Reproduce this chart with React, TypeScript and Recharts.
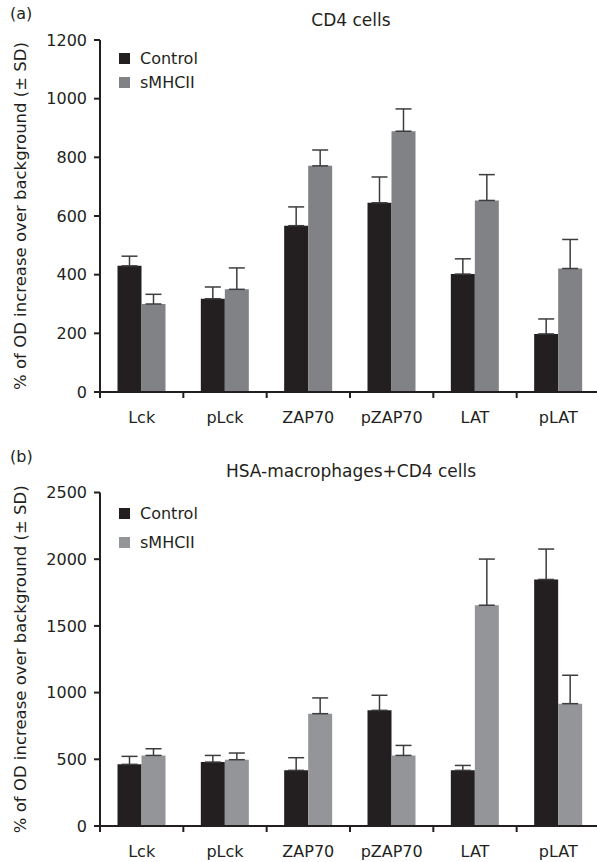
import { BarChart, Bar, XAxis, YAxis, ErrorBar, Legend } from 'recharts'

const categories = ['Lck', 'pLck', 'ZAP70', 'pZAP70', 'LAT', 'pLAT']

// (a) CD4 cells
const cd4Control = [430, 318, 567, 645, 402, 198]
const cd4ControlSd = [33, 40, 64, 88, 52, 51]
const cd4Smhc = [300, 350, 771, 889, 653, 421]
const cd4SmhcSd = [33, 73, 54, 76, 88, 99]
const cd4Ticks = [0, 200, 400, 600, 800, 1000, 1200]

// (b) HSA-macrophages+CD4 cells
const hsaControl = [462, 479, 417, 867, 417, 1848]
const hsaControlSd = [60, 50, 95, 113, 37, 228]
const hsaSmhc = [529, 497, 842, 529, 1655, 917]
const hsaSmhcSd = [50, 50, 118, 75, 346, 213]
const hsaTicks = [0, 500, 1000, 1500, 2000, 2500]

const INK = '#231f20'
const CONTROL = '#231f20'
const Y_LABEL = '% of OD increase over background (± SD)'

function buildRows(ctrl: number[], ctrlSd: number[], smhc: number[], smhcSd: number[]) {
  return categories.map((name, i) => ({
    name,
    control: ctrl[i],
    controlErr: [0, ctrlSd[i]],
    smhc: smhc[i],
    smhcErr: [0, smhcSd[i]],
  }))
}

function CategoryTick(props: any) {
  const { x, y, payload, index, width, visibleTicksCount } = props
  const band = width && visibleTicksCount ? width / visibleTicksCount : 500 / 6
  return (
    <g>
      {index === 0 && (
        <line x1={x - band / 2} x2={x - band / 2} y1={y} y2={y + 6} stroke={INK} strokeWidth={2} />
      )}
      <line x1={x + band / 2} x2={x + band / 2} y1={y} y2={y + 6} stroke={INK} strokeWidth={2} />
      <text x={x} y={y + 31} textAnchor="middle" fontSize={16} fill={INK}>
        {payload.value}
      </text>
    </g>
  )
}

function legendContent(rowHeight: number) {
  return (props: any) => (
    <div>
      {(props.payload || []).map((entry: any) => (
        <div
          key={entry.value}
          style={{ display: 'flex', alignItems: 'center', height: rowHeight, fontSize: 16, color: INK, whiteSpace: 'nowrap' }}
        >
          <span style={{ display: 'inline-block', width: 11, height: 11, background: entry.color, marginRight: 10 }} />
          {entry.value}
        </div>
      ))}
    </div>
  )
}

interface PanelProps {
  data: ReturnType<typeof buildRows>
  ticks: number[]
  smhcColor: string
  height: number
  marginTop: number
  marginBottom: number
  xAxisHeight: number
  legendTop: number
  legendRow: number
}

function Panel({ data, ticks, smhcColor, height, marginTop, marginBottom, xAxisHeight, legendTop, legendRow }: PanelProps) {
  return (
    <BarChart
      width={600}
      height={height}
      data={data}
      margin={{ top: marginTop, right: 0, bottom: marginBottom, left: 0 }}
      barCategoryGap="21%"
      barGap={0}
    >
      <XAxis
        dataKey="name"
        interval={0}
        tickLine={false}
        tickSize={0}
        tickMargin={0}
        height={xAxisHeight}
        axisLine={{ stroke: INK, strokeWidth: 2 }}
        tick={<CategoryTick />}
      />
      <YAxis
        width={100}
        domain={[0, ticks[ticks.length - 1]]}
        ticks={ticks}
        interval={0}
        tickSize={6}
        tickMargin={7}
        axisLine={{ stroke: INK, strokeWidth: 2 }}
        tickLine={{ stroke: INK, strokeWidth: 2 }}
        tick={{ fontSize: 16, fill: INK }}
        label={{ value: Y_LABEL, angle: -90, position: 'center', dx: -30, fontSize: 16.5, fill: INK }}
      />
      <Legend
        layout="vertical"
        align="center"
        verticalAlign="middle"
        wrapperStyle={{ left: 119, top: legendTop, width: 'auto', height: 'auto' }}
        content={legendContent(legendRow)}
      />
      <Bar dataKey="control" name="Control" fill={CONTROL} isAnimationActive={false}>
        <ErrorBar dataKey="controlErr" direction="y" width={8} stroke="#3d3d3f" strokeWidth={1.5} />
      </Bar>
      <Bar dataKey="smhc" name="sMHCII" fill={smhcColor} isAnimationActive={false}>
        <ErrorBar dataKey="smhcErr" direction="y" width={8} stroke="#3d3d3f" strokeWidth={1.5} />
      </Bar>
    </BarChart>
  )
}

export default function App() {
  const cd4 = buildRows(cd4Control, cd4ControlSd, cd4Smhc, cd4SmhcSd)
  const hsa = buildRows(hsaControl, hsaControlSd, hsaSmhc, hsaSmhcSd)

  return (
    <div
      style={{
        position: 'absolute',
        left: 0,
        top: 0,
        width: 597,
        height: 862,
        overflow: 'hidden',
        background: '#fff',
        fontFamily: '"DejaVu Sans", sans-serif',
      }}
    >
      <div style={{ position: 'absolute', left: 0, top: 0 }}>
        <Panel
          data={cd4}
          ticks={cd4Ticks}
          smhcColor="#808285"
          height={440}
          marginTop={40}
          marginBottom={8}
          xAxisHeight={40}
          legendTop={47}
          legendRow={23.5}
        />
      </div>
      <div style={{ position: 'absolute', left: 0, top: 440 }}>
        <Panel
          data={hsa}
          ticks={hsaTicks}
          smhcColor="#939598"
          height={422}
          marginTop={52.5}
          marginBottom={0}
          xAxisHeight={36}
          legendTop={58.5}
          legendRow={29}
        />
      </div>
      <svg width={597} height={862} style={{ position: 'absolute', left: 0, top: 0, pointerEvents: 'none' }}>
        <text x={10} y={19} fontSize={16} fill={INK}>(a)</text>
        <text x={351} y={26} fontSize={17} fill={INK} textAnchor="middle">CD4 cells</text>
        <text x={10} y={461.5} fontSize={16} fill={INK}>(b)</text>
        <text x={351} y={477} fontSize={17} fill={INK} textAnchor="middle">HSA-macrophages+CD4 cells</text>
      </svg>
    </div>
  )
}
